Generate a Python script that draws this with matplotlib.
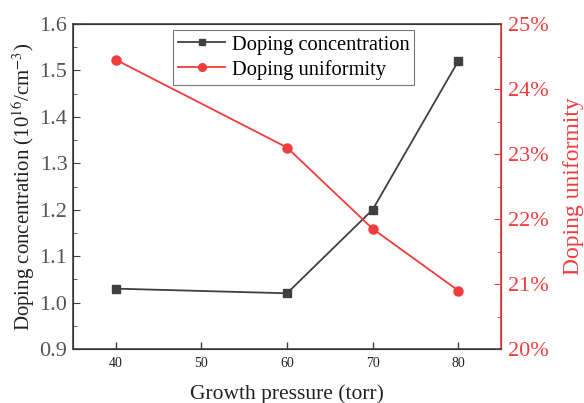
import matplotlib
matplotlib.use("Agg")
import matplotlib.pyplot as plt
from matplotlib.ticker import MultipleLocator, FuncFormatter

plt.rcParams['font.family'] = ['Liberation Serif', 'DejaVu Serif']
plt.rcParams['mathtext.fontset'] = 'stix'

pressure = [40, 60, 70, 80]
concentration = [1.03, 1.02, 1.20, 1.52]
uniformity = [24.45, 23.1, 21.85, 20.9]

dark = '#404040'
red = '#f03c3c'

fig = plt.figure(figsize=(5.84, 4.03), dpi=100)
ax = fig.add_axes([73/584, 1-349/403, (501-73)/584, (349-24)/403])
ax2 = ax.twinx()

l1, = ax.plot(pressure, concentration, color=dark, marker='s', markersize=5.5, lw=1.3,
              label='Doping concentration')
l2, = ax2.plot(pressure, uniformity, color=red, marker='o', markersize=6.5, lw=1.3,
               label='Doping uniformity')

ax.set_xlim(35, 85)
ax.set_ylim(0.9, 1.6)
ax2.set_ylim(20, 25)
ax.set_xticks([40, 50, 60, 70, 80])
ax.yaxis.set_major_locator(MultipleLocator(0.1))
ax.yaxis.set_minor_locator(MultipleLocator(0.05))
ax.yaxis.set_major_formatter(FuncFormatter(lambda v, p: f'{v:.1f}'))
ax2.yaxis.set_major_locator(MultipleLocator(1))
ax2.yaxis.set_minor_locator(MultipleLocator(0.5))
ax2.yaxis.set_major_formatter(FuncFormatter(lambda v, p: f'{v:.0f}%'))

ax.tick_params(axis='x', labelsize=10, direction='in', length=5, width=1, color=dark,
               labelcolor='#222222', pad=6)
ax.tick_params(axis='y', which='major', labelsize=16, direction='in', length=5, color=dark,
               labelcolor='#555555', pad=4)
ax.tick_params(axis='y', which='minor', direction='in', length=3, color=dark)
ax2.tick_params(axis='y', which='major', labelsize=16, direction='in', length=5, color=red,
                labelcolor=red, pad=5)
ax2.tick_params(axis='y', which='minor', direction='in', length=3, color=red)

for s in ['left', 'bottom', 'top']:
    ax2.spines[s].set_color(dark)
    ax2.spines[s].set_linewidth(1.2)
ax2.spines['right'].set_color(red)
ax2.spines['right'].set_linewidth(1.2)

ax.set_xlabel('Growth pressure (torr)', fontsize=15.5, color='#222222', labelpad=10)
ax.set_ylabel('Doping concentration (10$^{16}$/cm$^{-3}$)', fontsize=15, color='#222222', labelpad=2)
ax2.set_ylabel('Doping uniformity', fontsize=17, color=red, labelpad=10)

leg = ax.legend(handles=[l1, l2], loc='upper left', bbox_to_anchor=(100/428, 1 - 6/325),
                fontsize=14.8, frameon=True, fancybox=False, edgecolor='#555555',
                handlelength=2.3, borderpad=0.25, labelspacing=0.25, handletextpad=0.3,
                borderaxespad=0, markerscale=0.85)
leg.get_frame().set_linewidth(0.8)

fig.savefig('out.png', dpi=100)
